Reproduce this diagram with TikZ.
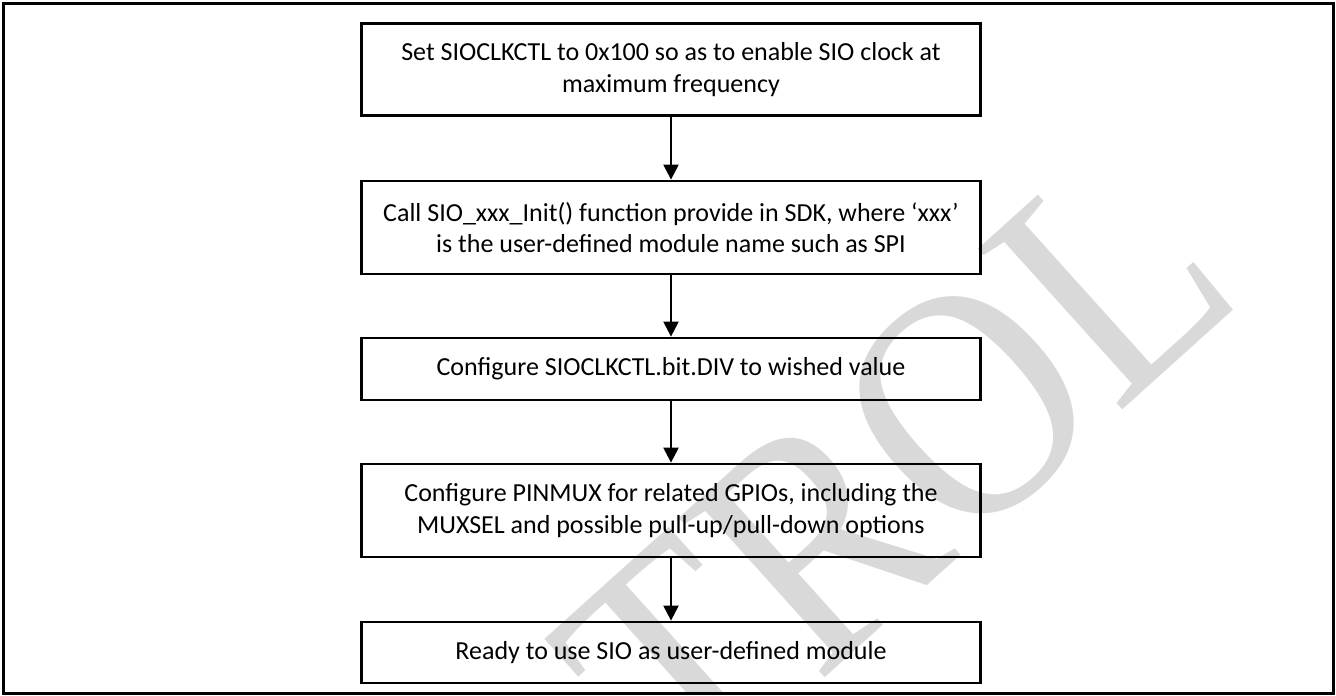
\documentclass[tikz,border=0pt]{standalone}
\usepackage{fontspec}
\setmainfont{Carlito}
\newfontfamily\wmfont{Liberation Serif}
\usetikzlibrary{arrows.meta}
\begin{document}
\begin{tikzpicture}[x=1pt,y=1pt,
  stepbox/.style={draw=black, line width=2.8pt, minimum width=619pt, inner sep=0pt,
    align=center, font=\fontsize{26pt}{31.7pt}\selectfont},
  flow/.style={draw=black, line width=2.3pt, -{Triangle[width=15pt,length=15pt]}},
  wmark/.style={text=black!15, inner sep=0pt, font=\wmfont\fontsize{330pt}{330pt}\selectfont}
]
\useasboundingbox (0,0) rectangle (1336,-696);
\fill[white] (0,0) rectangle (1336,-696);
% watermark
\begin{scope}
  \clip (3,-3) rectangle (1333,-693);
  \node[wmark, rotate=42, xscale=0.88] (wm) at (895,-470) {TROL};
\end{scope}
% outer frame
\draw[line width=3pt] (3,-3) rectangle (1333,-693);
% boxes
\node[stepbox, minimum height=92pt] (b1) at (671,-69.7)
  {Set SIOCLKCTL to 0x100 so as to enable SIO clock at\\ maximum frequency};
\node[stepbox, minimum height=93pt] (b2) at (671,-227.5)
  {Call SIO\_xxx\_Init() function provide in SDK, where ‘xxx’\\ is the user-defined module name such as SPI};
\node[stepbox, minimum height=62pt] (b3) at (671,-369)
  {Configure SIOCLKCTL.bit.DIV to wished value};
\node[stepbox, minimum height=93pt] (b4) at (671,-510.5)
  {Configure PINMUX for related GPIOs, including the\\ MUXSEL and possible pull-up/pull-down options};
\node[stepbox, minimum height=61pt] (b5) at (671,-652.5)
  {Ready to use SIO as user-defined module};
% connectors
\draw[flow] (b1.south) -- (b2.north);
\draw[flow] (b2.south) -- (b3.north);
\draw[flow] (b3.south) -- (b4.north);
\draw[flow] (b4.south) -- (b5.north);
\end{tikzpicture}
\end{document}
